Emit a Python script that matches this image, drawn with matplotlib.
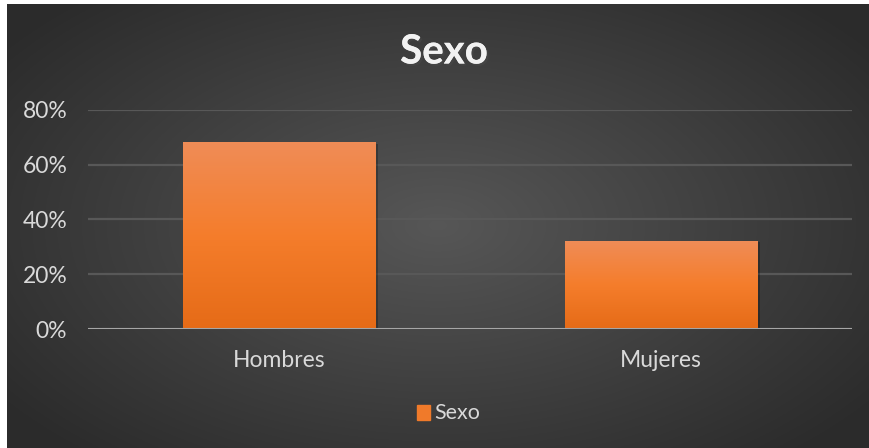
import numpy as np
import matplotlib.pyplot as plt
import matplotlib.patheffects as pe
from matplotlib.ticker import PercentFormatter

# data
categories = ["Hombres", "Mujeres"]
valores = [68, 32]
serie = "Sexo"
yticks = [0, 20, 40, 60, 80]

plt.rcParams['font.family'] = ['Lato', 'DejaVu Sans']

W, H = 869, 448
fig = plt.figure(figsize=(W / 100, H / 100), dpi=100)
fig.patch.set_facecolor("white")

# dark radial gradient background (leaves a thin white strip top/left)
bg = fig.add_axes([7 / W, 0, 1 - 7 / W, 1 - 4 / H])
yy, xx = np.mgrid[-1:1:300j, -1:1:600j]
r = np.sqrt((xx / 1.0) ** 2 + (yy / 1.1) ** 2)
r = np.clip(r, 0, 1.25) / 1.25
shade = 0.34 - 0.17 * r
img = np.dstack([shade, shade, shade])
bg.imshow(img, aspect="auto", extent=[0, 1, 0, 1])
bg.set_axis_off()

ax = fig.add_axes([88 / W, 1 - 329 / H, (852 - 88) / W, (329 - 110) / H])
ax.set_facecolor("none")
ax.set_xlim(-0.5, 1.5)
ax.set_ylim(0, 80)

# orange vertical gradient bars
x = np.arange(len(categories))
bars = ax.bar(x, valores, width=0.503, color="none", zorder=3)
grad = np.linspace(0, 1, 256).reshape(-1, 1)
top = np.array([0.94, 0.55, 0.34])
mid = np.array([0.96, 0.49, 0.17])
bot = np.array([0.90, 0.42, 0.09])
cols = np.where(grad[..., None] < 0.5,
                top + (mid - top) * (grad[..., None] / 0.5),
                mid + (bot - mid) * ((grad[..., None] - 0.5) / 0.5))
for b in bars:
    x0, w, h = b.get_x(), b.get_width(), b.get_height()
    # soft shadow
    ax.add_patch(plt.Rectangle((x0 + 0.008, 0), w, h - 0.4, color="black",
                               alpha=0.25, zorder=2, lw=0))
    ax.imshow(cols, extent=[x0, x0 + w, 0, h], aspect="auto", zorder=3)
ax.set_xlim(-0.5, 1.5)
ax.set_ylim(0, 80)

ax.set_yticks(yticks)
ax.yaxis.set_major_formatter(PercentFormatter(decimals=0))
ax.grid(axis="y", color="#585858", lw=1.6, zorder=1)
ax.axhline(0, color="#a6a6a6", lw=2.2, zorder=4)
ax.set_xticks(x)
ax.set_xticklabels(categories)
ax.tick_params(length=0, colors="#d9d9d9", labelsize=16.5)
ax.tick_params(axis="x", pad=15)
ax.tick_params(axis="y", pad=15)
for s in ax.spines.values():
    s.set_visible(False)

fig.text(444 / W, 1 - 52 / H, "Sexo", ha="center", va="center", color="#f2f2f2",
         fontsize=29, fontweight="bold",
         path_effects=[pe.withSimplePatchShadow(offset=(1.5, -1.5), alpha=0.6),
                       pe.Normal()])

# legend
fig.patches.append(plt.Rectangle((417 / W, 1 - 420 / H), 13 / W, 15 / H,
                                 transform=fig.transFigure, color="#f07a2a"))
fig.text(434 / W, 1 - 413 / H, serie, ha="left", va="center", color="#d9d9d9",
         fontsize=15.5)

fig.savefig("out.png", dpi=100, facecolor=fig.get_facecolor())
